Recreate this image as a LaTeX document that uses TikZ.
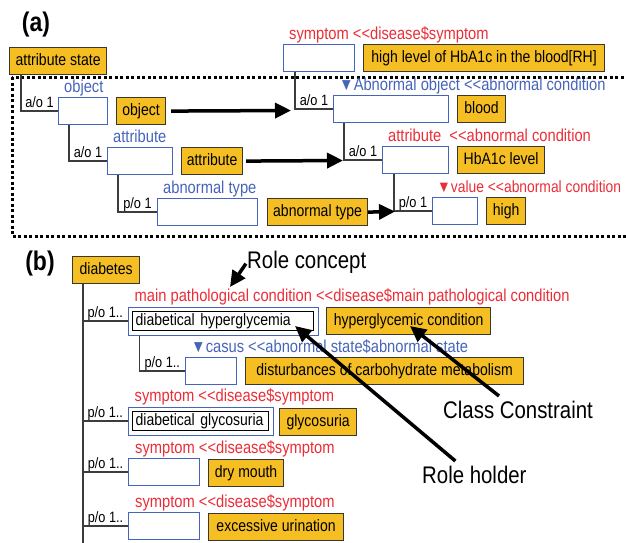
\documentclass[tikz,border=0pt]{standalone}
\usepackage{fontspec}
\setmainfont{Liberation Sans}[FakeStretch=0.85]
\usetikzlibrary{arrows.meta}
\usetikzlibrary{fit}
\usetikzlibrary{backgrounds}
\definecolor{conceptfill}{RGB}{245,190,35}
\definecolor{conceptdraw}{RGB}{60,55,45}
\definecolor{roleblue}{RGB}{70,100,185}
\definecolor{rolered}{RGB}{235,45,55}
\definecolor{treegray}{RGB}{60,60,60}
% two "<" that must not turn into a guillemet
\newcommand{\dlt}{<\kern0pt<}
\tikzstyle{concept}=[rectangle,
draw=conceptdraw,
fill=conceptfill,
line width=1.2pt,
minimum height=27pt,
inner sep=0pt,
text height=12pt,
text depth=3.5pt,
anchor=north west,
font=\fontsize{16.5}{18}\selectfont]
\tikzstyle{role}=[rectangle,
draw=roleblue,
fill=white,
line width=1pt,
minimum height=27pt,
inner sep=0pt,
anchor=north west]
\tikzstyle{roleframe}=[rectangle,
draw=roleblue,
fill=white,
line width=1pt,
inner sep=4pt]
\tikzstyle{holder}=[rectangle,
draw=black,
line width=1.2pt,
inner xsep=3pt,
inner ysep=1.75pt,
text height=12pt,
text depth=3.5pt,
align=left,
anchor=north west,
font=\fontsize{16.5}{18}\selectfont]
\tikzstyle{rname}=[inner sep=0pt,
anchor=base west,
font=\fontsize{17.3}{19}\selectfont]
\tikzstyle{card}=[pos=0.75,
inner sep=0pt,
anchor=base,
yshift=3.5pt,
text=black,
font=\fontsize{15}{16}\selectfont]
\tikzstyle{treeline}=[draw=treegray,
line width=1.3pt]
\tikzstyle{dotframe}=[draw=black,
line width=3pt,
dash pattern=on 3pt off 2.5pt]
\tikzstyle{bigarrow}=[draw=black,
line width=3.5pt,
-{Triangle[length=16pt,width=15pt]}]
\tikzstyle{annot}=[inner sep=0pt,
anchor=west,
font=\fontsize{24}{26}\selectfont]
\tikzstyle{panel}=[inner sep=0pt,
font=\fontsize{27}{29}\selectfont\bfseries]

\begin{document}
\begin{tikzpicture}[x=1pt,y=-1pt]
		\useasboundingbox (0,0) rectangle (626,542);
		
		% (a): the attribute state, with the dotted frame round its parts
		\node[panel] (p_a) at (36,25) {(a)};
		\node[concept, minimum width=97pt] (as_c) at (9,47) {attribute state};
		\draw[dotframe] (12,77) rectangle (640,236);
		
		% left tree
		\node[role, minimum width=49pt] (obj_r) at (58,97) {};
		\node[rname, text=roleblue] (obj_l) at ([shift={(6,-5)}]obj_r.north west) {object};
		\node[concept, minimum width=49pt] (obj_c) at (116,97) {object};
		\node[role, minimum width=65pt] (att_r) at (107,147) {};
		\node[rname, text=roleblue] (att_l) at ([shift={(6,-5)}]att_r.north west) {attribute};
		\node[concept, minimum width=61pt] (att_c) at (181,147) {attribute};
		\node[role, minimum width=100pt] (abn_r) at (157,198) {};
		\node[rname, text=roleblue] (abn_l) at ([shift={(6,-5)}]abn_r.north west) {abnormal type};
		\node[concept, minimum width=100pt] (abn_c) at (267,198) {abnormal type};
		
		\draw[treeline] ([xshift=12pt]as_c.south west) |- node[card] (as_k) {a/o 1} (obj_r.west);
		\draw[treeline] ([xshift=11pt]obj_r.south west) |- node[card] (obj_k) {a/o 1} (att_r.west);
		\draw[treeline] ([xshift=11pt]att_r.south west) |- node[card] (att_k) {p/o 1} (abn_r.west);
		
		% right tree: the symptom
		\node[role, minimum width=71pt] (sym_r) at (283,44) {};
		\node[rname, text=rolered] (sym_l) at ([shift={(6,-5)}]sym_r.north west) {symptom \dlt disease\$symptom};
		\node[concept, minimum width=241pt] (sym_c) at (363,44) {high level of HbA1c in the blood[RH]};
		\node[role, minimum width=115pt] (aob_r) at (333,95) {};
		\node[rname, text=roleblue] (aob_l) at ([shift={(6,-5)}]aob_r.north west) {▼Abnormal object \dlt abnormal condition};
		\node[concept, minimum width=48pt] (aob_c) at (457,95) {blood};
		\node[role, minimum width=66pt] (at2_r) at (382,146) {};
		\node[rname, text=rolered] (at2_l) at ([shift={(6,-5)}]at2_r.north west) {attribute\ \ \dlt abnormal condition};
		\node[concept, minimum width=87pt] (at2_c) at (457,146) {HbA1c level};
		\node[role, minimum width=45pt] (val_r) at (432,197) {};
		\node[rname, text=rolered, font=\fontsize{16.3}{18}\selectfont] (val_l) at ([shift={(5,-5)}]val_r.north west) {▼value \dlt abnormal condition};
		\node[concept, minimum width=39pt] (val_c) at (486,197) {high};
		
		\draw[treeline] ([xshift=12pt]sym_r.south west) |- node[card] (sym_k) {a/o 1} (aob_r.west);
		\draw[treeline] ([xshift=11pt]aob_r.south west) |- node[card] (aob_k) {a/o 1} (at2_r.west);
		\draw[treeline] ([xshift=12pt]at2_r.south west) |- node[card] (at2_k) {p/o 1} (val_r.west);
		
		% the parts of the left tree map onto the right one
		\coordinate (obj_tip) at (291,110.5);
		\coordinate (att_tip) at (343,160.5);
		\coordinate (abn_tip) at (395,211.5);
		\draw[bigarrow, shorten <=5pt] (obj_c.east) -- (obj_tip);
		\draw[bigarrow, shorten <=3pt] (att_c.east) -- (att_tip);
		\draw[bigarrow] (abn_c.east) -- (abn_tip);
		
		% (b): diabetes
		\node[panel] (p_b) at (40,264) {(b)};
		\node[concept, minimum width=67pt] (dia_c) at (72,256) {diabetes};
		\coordinate (dia_end) at (83,545);
		\draw[treeline] ([xshift=11pt]dia_c.south west) -- (dia_end);
		
		% role holders sit inside their role frame
		\node[holder, text width=175pt] (mpc_h) at (132,311) {diabetical hyperglycemia};
		\node[holder, text width=130pt] (gly_h) at (132,411) {diabetical glycosuria};
		\begin{pgfonlayer}{background}
		\node[roleframe, fit=(mpc_h)] (mpc_r) {};
		\node[roleframe, fit=(gly_h)] (gly_r) {};
		\end{pgfonlayer}
		\node[rname, text=rolered] (mpc_l) at ([shift={(7,-5)}]mpc_r.north west) {main pathological condition \dlt disease\$main pathological condition};
		\node[concept, minimum width=164pt] (mpc_c) at (326,307) {hyperglycemic condition};
		\node[role, minimum width=51pt] (cas_r) at (185,357) {};
		\node[rname, text=roleblue] (cas_l) at ([shift={(6,-5)}]cas_r.north west) {▼casus \dlt abnormal state\$abnormal state};
		\node[concept, minimum width=278pt] (cas_c) at (245,357) {disturbances of carbohydrate metabolism};
		\node[rname, text=rolered] (gly_l) at ([shift={(7,-5)}]gly_r.north west) {symptom \dlt disease\$symptom};
		\node[concept, minimum width=77pt] (gly_c) at (279,408) {glycosuria};
		\node[role, minimum width=71pt] (dry_r) at (128,458) {};
		\node[rname, text=rolered] (dry_l) at ([shift={(7,-5)}]dry_r.north west) {symptom \dlt disease\$symptom};
		\node[concept, minimum width=75pt] (dry_c) at (208,459) {dry mouth};
		\node[role, minimum width=71pt] (exc_r) at (128,512) {};
		\node[rname, text=rolered] (exc_l) at ([shift={(7,-5)}]exc_r.north west) {symptom \dlt disease\$symptom};
		\node[concept, minimum width=135pt] (exc_c) at (208,513) {excessive urination};
		
		\draw[treeline] ([xshift=11pt]dia_c.south west) |- node[card] (mpc_k) {p/o 1..} (mpc_r.west);
		\draw[treeline] ([xshift=12pt]mpc_r.south west) |- node[card] (cas_k) {p/o 1..} (cas_r.west);
		\draw[treeline] ([xshift=11pt]dia_c.south west) |- node[card] (gly_k) {p/o 1..} (gly_r.west);
		\draw[treeline] ([xshift=11pt]dia_c.south west) |- node[card] (dry_k) {p/o 1..} (dry_r.west);
		\draw[treeline] ([xshift=11pt]dia_c.south west) |- node[card] (exc_k) {p/o 1..} (exc_r.west);
		
		% annotations
		\node[annot] (rc_t) at (247,262) {Role concept};
		\node[annot] (cc_t) at (443,410) {Class Constraint};
		\node[annot] (rh_t) at (422,475) {Role holder};
		\coordinate (rc_tip) at (230,287);
		\coordinate (cc_tip) at (410,326);
		\coordinate (rh_tip) at (295,326);
		\draw[bigarrow, shorten <=2pt] (rc_t.west) -- (rc_tip);
		\draw[bigarrow] ([shift={(-19,-5)}]cc_t.north) -- (cc_tip);
		\draw[bigarrow] ([shift={(-19,-5)}]rh_t.north) -- (rh_tip);
\end{tikzpicture}
\end{document}
